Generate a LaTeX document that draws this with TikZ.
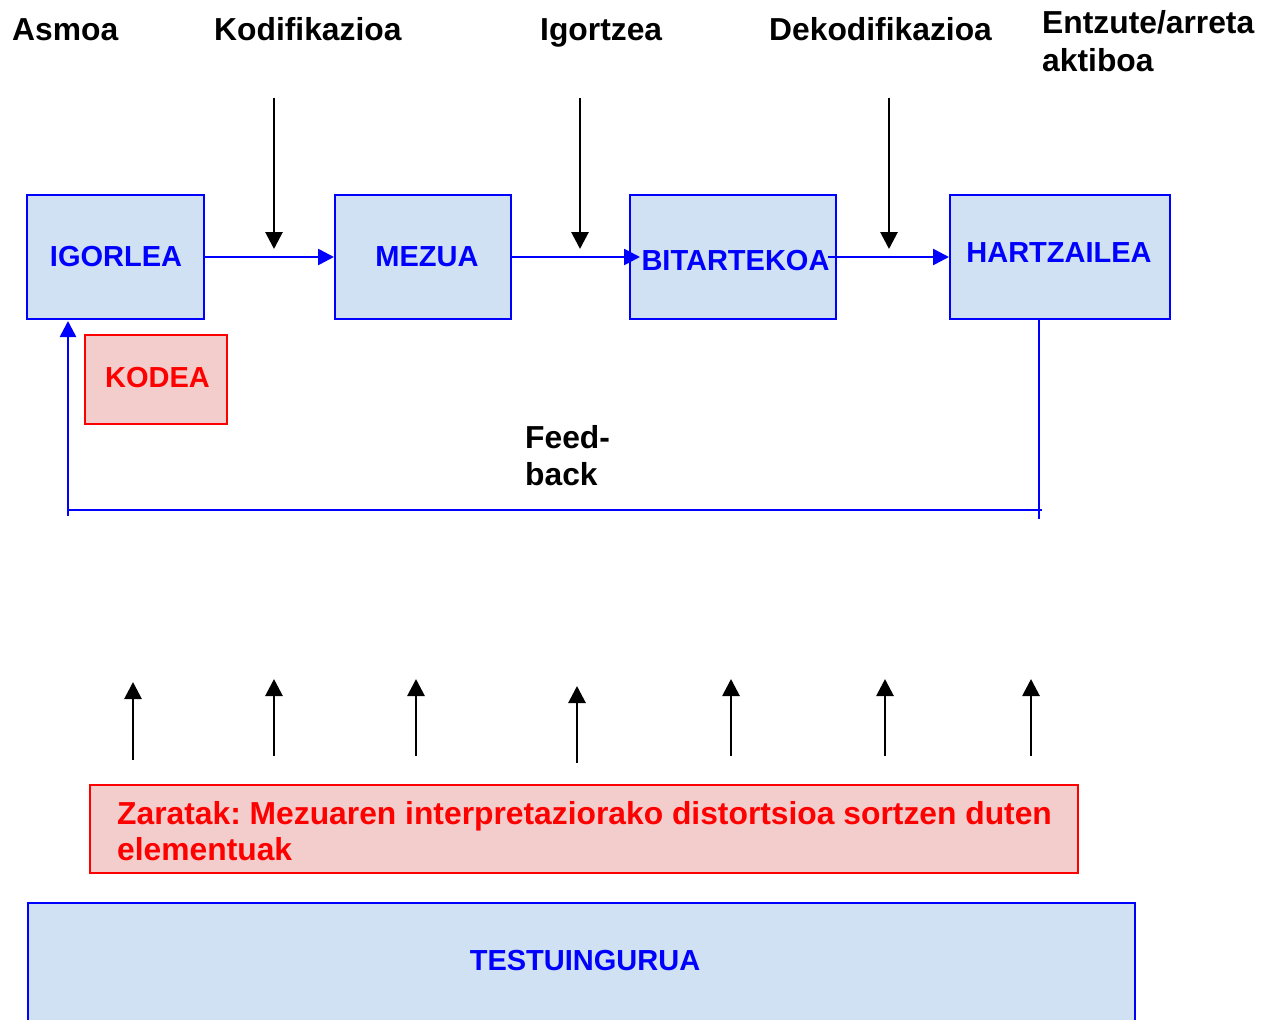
\documentclass[tikz,border=0pt]{standalone}
\usepackage{fontspec}
\setmainfont{Liberation Sans}
\usetikzlibrary{arrows.meta}
\frenchspacing
\definecolor{boxblue}{HTML}{CFE1F3}
\definecolor{boxpink}{HTML}{F3CCCC}
\definecolor{lnblue}{HTML}{0000FF}
\definecolor{lnred}{HTML}{FF0000}
\tikzset{
  bluebox/.style={draw=lnblue, fill=boxblue, line width=2pt, inner sep=0pt},
  pinkbox/.style={draw=lnred, fill=boxpink, line width=1.8pt, inner sep=0pt},
  boxlabel/.style={font=\bfseries\fontsize{29}{34}\selectfont, text=lnblue, inner sep=0pt, anchor=base},
  toplabel/.style={font=\bfseries\fontsize{31.8}{37}\selectfont, text=black, inner sep=0pt, anchor=base west, align=left},
  redlabel/.style={font=\bfseries\fontsize{31.8}{36}\selectfont, text=lnred, inner sep=0pt, anchor=base west, align=left},
  flowarrow/.style={draw=lnblue, line width=2.6pt, -{Triangle[length=16pt,width=16pt]}},
  bluelink/.style={draw=lnblue, line width=2.6pt},
  blackarrow/.style={draw=black, line width=2.8pt, -{Triangle[length=17pt,width=17pt]}},
}
\begin{document}
\begin{tikzpicture}[x=1pt,y=-1pt]
\useasboundingbox (0,0) rectangle (1272,1020);

% top labels
\node[toplabel] (asmoa) at (12,40) {Asmoa};
\node[toplabel] (kodif) at (214,40) {Kodifikazioa};
\node[toplabel] (igortzea) at (540,40) {Igortzea};
\node[toplabel] (dekodif) at (769,40) {Dekodifikazioa};
\node[toplabel] (entzute) at (1042,33) {Entzute/arreta};
\node[toplabel] (aktiboa) at (1042,71) {aktiboa};

% main boxes
\node[bluebox, minimum width=177pt, minimum height=124pt] (igorlea) at (115.5,257) {};
\node[bluebox, minimum width=176pt, minimum height=124pt] (mezua) at (423,257) {};
\node[bluebox, minimum width=206pt, minimum height=124pt] (bitartekoa) at (733,257) {};
\node[bluebox, minimum width=220pt, minimum height=124pt] (hartzailea) at (1060,257) {};

\node[boxlabel] (tigorlea) at (116,266.5) {IGORLEA};
\node[boxlabel] (tmezua) at (427,266.5) {MEZUA};
\node[boxlabel] (tbitartekoa) at (735.5,270) {BITARTEKOA};
\node[boxlabel] (thartzailea) at (1059,262.5) {HARTZAILEA};

% KODEA
\node[pinkbox, minimum width=142pt, minimum height=89pt] (kodea) at (156,379.5) {};
\node[boxlabel, text=lnred] (tkodea) at (157.5,387.5) {KODEA};

% flow arrows
\draw[flowarrow] (igorlea.east) -- (mezua.west);
\draw[flowarrow, shorten >=-11pt] (mezua.east) -- (bitartekoa.west);
\draw[flowarrow, shorten <=-9pt] (bitartekoa.east) -- (hartzailea.west);

% down arrows
\coordinate (d1a) at (274,98); \coordinate (d1b) at (274,249);
\coordinate (d2a) at (580,98); \coordinate (d2b) at (580,249);
\coordinate (d3a) at (889,98); \coordinate (d3b) at (889,249);
\draw[blackarrow] (d1a) -- (d1b);
\draw[blackarrow] (d2a) -- (d2b);
\draw[blackarrow] (d3a) -- (d3b);

% feedback
\coordinate (fbtop) at (1039,319);
\coordinate (fbbot) at (1039,519);
\coordinate (fbright) at (1042,510);
\coordinate (fbleft) at (68,510);
\coordinate (fblow) at (68,516);
\coordinate (fbup) at (68,321);
\draw[bluelink] (fbtop) -- (fbbot);
\draw[bluelink] (fbright) -- (fbleft);
\draw[flowarrow] (fblow) -- (fbup);
\node[toplabel] (feed) at (525,448) {Feed-};
\node[toplabel] (back) at (525,485) {back};

% noise arrows
\coordinate (u1a) at (133,760); \coordinate (u1b) at (133,682);
\coordinate (u2a) at (274,756); \coordinate (u2b) at (274,679);
\coordinate (u3a) at (416,756); \coordinate (u3b) at (416,679);
\coordinate (u4a) at (577,763); \coordinate (u4b) at (577,686);
\coordinate (u5a) at (731,756); \coordinate (u5b) at (731,679);
\coordinate (u6a) at (885,756); \coordinate (u6b) at (885,679);
\coordinate (u7a) at (1031,756); \coordinate (u7b) at (1031,679);
\foreach \i in {1,...,7} { \draw[blackarrow] (u\i a) -- (u\i b); }

% Zaratak box
\node[pinkbox, minimum width=988pt, minimum height=88pt] (zaratak) at (584,829) {};
\node[redlabel] (tzaratak1) at (117,824) {Zaratak: Mezuaren interpretaziorako distortsioa sortzen duten};
\node[redlabel] (tzaratak2) at (117,860) {elementuak};

% Testuingurua
\node[bluebox, minimum width=1107pt, minimum height=130pt, anchor=north west] (testuinguru) at (27,902) {};
\node[boxlabel] (ttestuinguru) at (585,970.5) {TESTUINGURUA};
\end{tikzpicture}
\end{document}
